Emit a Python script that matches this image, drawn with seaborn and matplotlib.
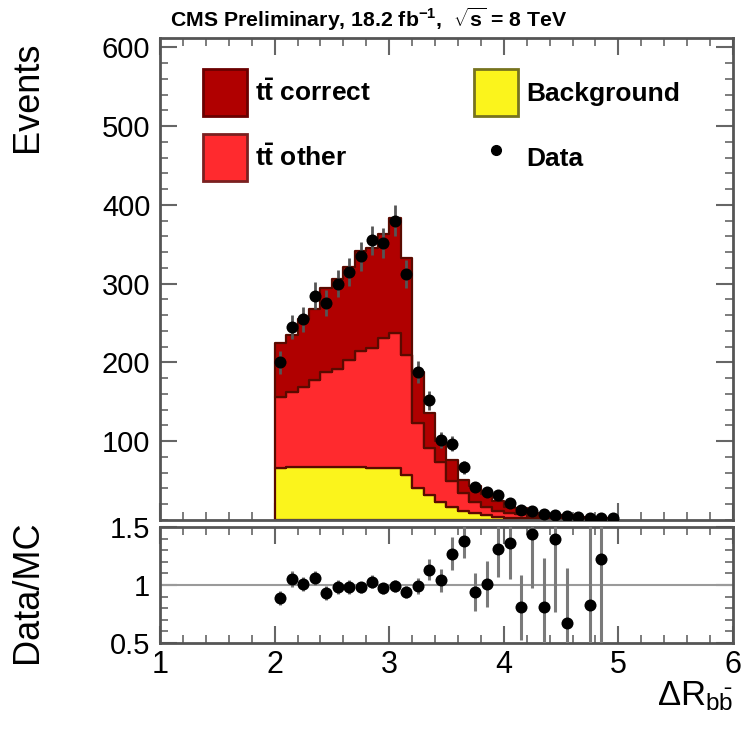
import numpy as np
import pandas as pd
import matplotlib
matplotlib.use("Agg")
import matplotlib.pyplot as plt
import seaborn as sns
from matplotlib.patches import Patch
from matplotlib.lines import Line2D
from matplotlib.ticker import MultipleLocator

# bins of Delta R(b, bbar): 2.0 .. 5.0 in steps of 0.1
bin_edges = [round(2.0 + 0.1 * i, 2) for i in range(31)]
bin_centers = [round(2.05 + 0.1 * i, 3) for i in range(30)]

# stacked MC components (events per bin)
tt_correct = [69, 73, 86, 90, 106, 114, 118, 128, 127, 132, 147, 124, 65, 45, 26,
              27, 17, 20, 16, 12, 8, 8, 4, 4, 2, 3, 2, 1, 1, 1]
tt_other = [90, 95, 102, 111, 121, 125, 136, 147, 152, 165, 171, 152, 83, 59, 51,
            32, 22, 14, 11, 8, 6, 5, 3, 3, 2, 2, 1.5, 1.5, 0.7, 0.7]
background = [66, 67, 67, 67, 67, 67, 67, 67, 66, 66, 66, 57, 40, 32, 23,
              17, 12, 9, 6, 4, 3, 2, 2, 1, 1, 1, 0.5, 0.5, 0.3, 0.3]

# observed data
data_events = [200, 245, 255, 285, 275, 300, 315, 335, 355, 352, 380, 312, 188, 152, 102,
               97, 67, 42, 35, 32, 22, 13, 12, 7, 6, 5, 4, 3, 2, 2]

# data / MC ratio and its uncertainty
ratio = [0.89, 1.05, 1.01, 1.06, 0.93, 0.98, 0.98, 0.98, 1.03, 0.97, 0.99, 0.94, 0.99, 1.13, 1.04,
         1.27, 1.38, 0.94, 1.01, 1.31, 1.36, 0.81, 1.44, 0.81, 1.40, 0.67, np.nan, 0.83, 1.22, np.nan]
ratio_err = [0.06, 0.07, 0.06, 0.06, 0.06, 0.06, 0.06, 0.05, 0.06, 0.05, 0.05, 0.05, 0.07, 0.09, 0.10,
             0.14, 0.15, 0.16, 0.20, 0.24, 0.31, 0.28, 0.47, 0.42, 0.63, 0.48, np.nan, 1.0, 1.0, np.nan]

# seaborn stacks the first hue level on top
labels = ["tt correct", "tt other", "Background"]
colors = {"tt correct": "#b00000", "tt other": "#ff2a2e", "Background": "#fbf41c"}

sns.set_theme(style="ticks")
plt.rcParams["font.family"] = ["Liberation Sans", "DejaVu Sans"]
plt.rcParams["mathtext.fontset"] = "custom"
plt.rcParams["mathtext.rm"] = "Liberation Sans"
plt.rcParams["mathtext.it"] = "Liberation Sans"
plt.rcParams["mathtext.bf"] = "Liberation Sans:bold"
plt.rcParams["text.color"] = "black"
plt.rcParams["axes.labelcolor"] = "black"
plt.rcParams["xtick.labelcolor"] = "black"
plt.rcParams["ytick.labelcolor"] = "black"

comp_values = {"tt correct": tt_correct, "tt other": tt_other, "Background": background}
df = pd.DataFrame({
    "dR": bin_centers * 3,
    "w": [v for lab in labels for v in comp_values[lab]],
    "comp": [lab for lab in labels for _ in bin_centers],
})

fig = plt.figure(figsize=(7.48, 7.33), dpi=100)
ax = fig.add_axes([0.2139, 0.2906, 0.766, 0.6576])
rax = fig.add_axes([0.2139, 0.1228, 0.766, 0.1582])

sns.histplot(data=df, x="dR", weights="w", hue="comp", hue_order=labels,
             multiple="stack", bins=bin_edges, element="step", fill=True,
             palette=colors, alpha=1, linewidth=1.6, edgecolor="#5a0a00",
             legend=False, ax=ax)

ax.errorbar(bin_centers, data_events, yerr=np.sqrt(data_events), fmt="none",
            ecolor="#555555", elinewidth=2, capsize=0, zorder=4)
sns.scatterplot(x=bin_centers, y=data_events, color="black", s=75,
                edgecolor="black", linewidth=0, zorder=5, ax=ax)

ax.set_xlim(1, 6)
ax.set_ylim(0, 612)
ax.set_yticks([100, 200, 300, 400, 500, 600])
ax.yaxis.set_minor_locator(MultipleLocator(20))
ax.xaxis.set_major_locator(MultipleLocator(1))
ax.xaxis.set_minor_locator(MultipleLocator(0.2))
ax.set_xticklabels([])
ax.set_xlabel("")
ax.set_ylabel("Events", loc="top", fontsize=26)
ax.yaxis.set_label_coords(-0.2, 0.992)

# ratio panel
rax.axhline(1, color="#9a9a9a", lw=1.5, zorder=1)
rax.errorbar(bin_centers, ratio, yerr=ratio_err, fmt="none",
             ecolor="#7a7a7a", elinewidth=2.2, capsize=0, zorder=3)
sns.scatterplot(x=bin_centers, y=ratio, color="black", s=75, linewidth=0,
                zorder=4, ax=rax)
rax.set_xlim(1, 6)
rax.set_ylim(0.5, 1.5)
rax.set_yticks([0.5, 1, 1.5])
rax.set_yticklabels(["0.5", "1", "1.5"])
rax.yaxis.set_minor_locator(MultipleLocator(0.1))
rax.xaxis.set_major_locator(MultipleLocator(1))
rax.xaxis.set_minor_locator(MultipleLocator(0.2))
rax.set_ylabel("Data/MC", fontsize=26)
rax.yaxis.set_label_coords(-0.2, 0.44)
rax.set_xlabel(r"$\Delta R_{b\bar{b}}$", loc="right", fontsize=25)
rax.xaxis.set_label_coords(1.0, -0.31)

for a in (ax, rax):
    a.tick_params(which="both", direction="in", top=True, right=True,
                  color="#666666", labelsize=21, pad=7)
    a.tick_params(which="major", length=12, width=1.5)
    a.tick_params(which="minor", length=6, width=1.2)
    for s in a.spines.values():
        s.set_color("#555555")
        s.set_linewidth(2)
rax.tick_params(axis="x", labelsize=22, pad=5)

handles = [
    Patch(facecolor=colors["tt correct"], edgecolor="#6a0000", lw=2),
    Patch(facecolor=colors["tt other"], edgecolor="#7a2020", lw=2),
    Patch(facecolor=colors["Background"], edgecolor="#77731f", lw=2),
    Line2D([], [], marker="o", color="black", ls="none", ms=7),
]
leg_labels = [r"$\mathbf{t\bar{t}}$ correct", r"$\mathbf{t\bar{t}}$ other", "Background", "Data"]
ax.legend(handles, leg_labels, ncol=2, loc="upper left", bbox_to_anchor=(0.075, 0.935),
          frameon=False, borderaxespad=0, borderpad=0, handlelength=1.67,
          handleheight=2.36, handletextpad=0.3, labelspacing=0.68, columnspacing=3.9,
          prop={"weight": "bold", "size": 19})

fig.text(170 / 748, 1 - 27 / 733,
         r"CMS Preliminary, 18.2 fb$^{\mathbf{-1}}$,  $\sqrt{\mathbf{s}}$ = 8 TeV",
         fontsize=15.3, fontweight="bold", va="baseline", ha="left")

fig.savefig("out.png", dpi=100)
